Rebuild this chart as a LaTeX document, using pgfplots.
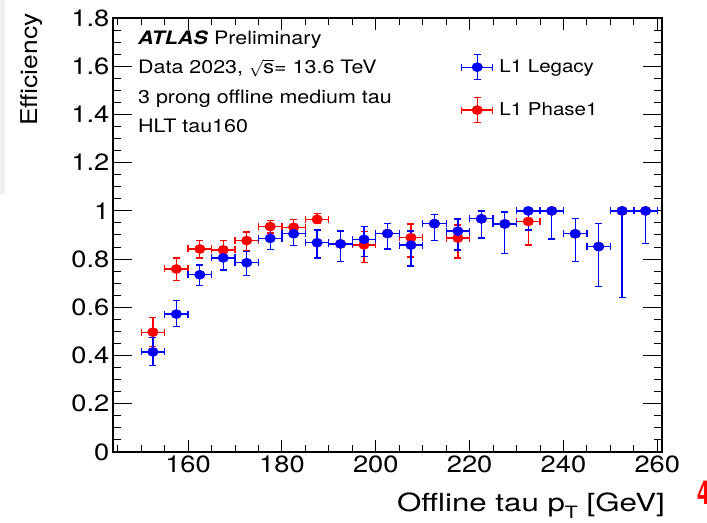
\documentclass[border=0pt]{standalone}
\usepackage{pgfplots}
\pgfplotsset{compat=1.18}
\usepackage{pgfplotstable}
\usepackage{fontspec}
\setmainfont[FakeStretch=1.16]{TeX Gyre Heros}
\newfontfamily\plainheros{TeX Gyre Heros}
\newfontfamily\wideheros[FakeStretch=1.25]{TeX Gyre Heros}

% efficiency per 5 GeV bin: value, upper and lower uncertainty
\pgfplotstableread{
x     y      ep     em
152.5 0.415  0.060  0.055
157.5 0.572  0.055  0.052
162.5 0.735  0.041  0.045
167.5 0.805  0.045  0.050
172.5 0.785  0.046  0.053
177.5 0.886  0.038  0.045
182.5 0.905  0.032  0.050
187.5 0.868  0.053  0.064
192.5 0.863  0.054  0.073
197.5 0.882  0.053  0.072
202.5 0.906  0.043  0.064
207.5 0.858  0.059  0.086
212.5 0.947  0.039  0.070
217.5 0.916  0.050  0.078
222.5 0.967  0.032  0.080
227.5 0.946  0.049  0.122
232.5 1.000  0.000  0.079
237.5 1.000  0.000  0.117
242.5 0.905  0.063  0.115
247.5 0.852  0.097  0.166
252.5 1.000  0.000  0.360
257.5 1.000  0.000  0.134
}\legacy

\pgfplotstableread{
x     y      ep     em
152.5 0.497  0.062  0.060
157.5 0.759  0.045  0.048
162.5 0.842  0.034  0.038
167.5 0.838  0.039  0.038
172.5 0.877  0.036  0.042
177.5 0.935  0.025  0.027
182.5 0.932  0.031  0.025
187.5 0.965  0.025  0.016
192.5 0.863  0.054  0.073
197.5 0.859  0.055  0.074
202.5 0.906  0.043  0.064
207.5 0.889  0.056  0.080
212.5 0.947  0.039  0.070
217.5 0.887  0.055  0.083
222.5 0.967  0.032  0.080
227.5 0.946  0.049  0.122
232.5 0.956  0.044  0.097
237.5 1.000  0.000  0.117
242.5 0.905  0.063  0.115
247.5 0.852  0.097  0.166
252.5 1.000  0.000  0.360
257.5 1.000  0.000  0.134
}\phaseone

\pgfplotsset{
  effstyle/.style={
    only marks, mark=*, color=#1,
    mark options={xscale=1.16, fill=#1, draw=none},
    mark size=4.6bp,
    error bars/x dir=both, error bars/x fixed=2.5,
    error bars/y dir=both, error bars/y explicit,
    error bars/error bar style={line width=1.3bp, #1},
    error bars/error mark=-,
    error bars/error mark options={rotate=90, line width=1.3bp, #1, mark size=3.5bp},
  },
  effimage/.style={
    legend image code/.code={
      \draw[#1, line width=1.3bp] (0bp,0bp) -- (31bp,0bp);
      \draw[#1, line width=1.3bp] (0bp,-3.5bp) -- (0bp,3.5bp);
      \draw[#1, line width=1.3bp] (31bp,-3.5bp) -- (31bp,3.5bp);
      \draw[#1, line width=1.3bp] (15.5bp,-12.5bp) -- (15.5bp,12.5bp);
      \draw[#1, line width=1.3bp] (12bp,12.5bp) -- (19bp,12.5bp);
      \draw[#1, line width=1.3bp] (12bp,-12.5bp) -- (19bp,-12.5bp);
      \fill[#1] (15.5bp,0bp) ellipse (5.3bp and 4.6bp);
    }
  },
}

\begin{document}
\begin{tikzpicture}
\begin{axis}[
  name=ax,
  at={(0,0)}, anchor=south west,
  scale only axis, width=549bp, height=434bp,
  xmin=144, xmax=261, ymin=0, ymax=1.8,
  xtick={160,180,200,220,240,260},
  minor xtick={145,150,...,260},
  ytick={0,0.2,0.4,0.6,0.8,1,1.2,1.4,1.6,1.8},
  minor ytick={0,0.05,...,1.8},
  tick align=inside,
  axis line style={line width=1.2bp},
  every tick/.style={black, line width=1bp},
  x tick style={/pgfplots/major tick length=12bp, /pgfplots/minor tick length=7bp},
  y tick style={/pgfplots/major tick length=19bp, /pgfplots/minor tick length=8bp},
  /pgf/number format/assume math mode=true,
  tick label style={font=\fontsize{23.5bp}{24bp}\selectfont},
  yticklabel style={inner sep=0pt, xshift=-3.5bp, anchor=east},
  xticklabel style={inner sep=0pt, yshift=-4bp, anchor=north},
  xlabel={\wideheros Offline tau p\raisebox{-7bp}{\fontsize{17bp}{17bp}\selectfont T} [GeV]},
  xlabel style={font=\fontsize{25bp}{26bp}\selectfont, inner sep=0pt,
    at={(axis description cs:1.0055,-0.1376)}, anchor=base east},
  ylabel={\scalebox{1}[0.876]{\plainheros Efficiency}},
  ylabel style={font=\fontsize{26.4bp}{27bp}\selectfont, inner sep=0pt,
    at={(axis description cs:-0.1379,1.0108)}, anchor=base east},
  legend style={draw=none, fill=none, at={(rel axis cs:0.634,0.917)},
    anchor=north west, inner sep=0pt, outer sep=0pt,
    row sep=16.6bp, column sep=6bp,
    font=\fontsize{17.7bp}{18bp}\selectfont,
    nodes={inner sep=0pt, anchor=west}},
  legend cell align=left,
  clip=false,
]
\addlegendimage{effimage=blue}
\addlegendentry{L1 Legacy}
\addlegendimage{effimage=red}
\addlegendentry{L1 Phase1}

\addplot[forget plot, effstyle=red]
  table[x=x, y=y, y error plus=ep, y error minus=em] {\phaseone};
\addplot[forget plot, effstyle=blue]
  table[x=x, y=y, y error plus=ep, y error minus=em] {\legacy};

\node[anchor=base west, inner sep=0pt, font=\fontsize{18.5bp}{19bp}\selectfont]
  at (rel axis cs:0.0455,0.9378) {\textbf{\textit{ATLAS}} Preliminary};
\node[anchor=base west, inner sep=0pt, font=\fontsize{18.5bp}{19bp}\selectfont]
  at (rel axis cs:0.0455,0.8710) {Data 2023, $\sqrt{\mbox{s}}$= 13.6 TeV};
\node[anchor=base west, inner sep=0pt, font=\fontsize{18.5bp}{19bp}\selectfont]
  at (rel axis cs:0.0455,0.8041) {3 prong offline medium tau};
\node[anchor=base west, inner sep=0pt, font=\fontsize{18.5bp}{19bp}\selectfont]
  at (rel axis cs:0.0455,0.7373) {HLT tau160};
\end{axis}

% window edge at the far left and the clipped page number at the lower right
\fill[black!6] ([shift={(-113bp,257bp)}]ax.south west) rectangle ([shift={(-108bp,452bp)}]ax.south west);
\node[anchor=base west, inner sep=0pt, text=red, font=\bfseries\fontsize{33bp}{33bp}\selectfont]
  at ([shift={(584bp,-52bp)}]ax.south west) {\scalebox{0.6}[1]{4}};

\pgfresetboundingbox
\path[use as bounding box] ([shift={(-113bp,-71bp)}]ax.south west) rectangle ([shift={(594bp,452bp)}]ax.south west);
\end{tikzpicture}
\end{document}
